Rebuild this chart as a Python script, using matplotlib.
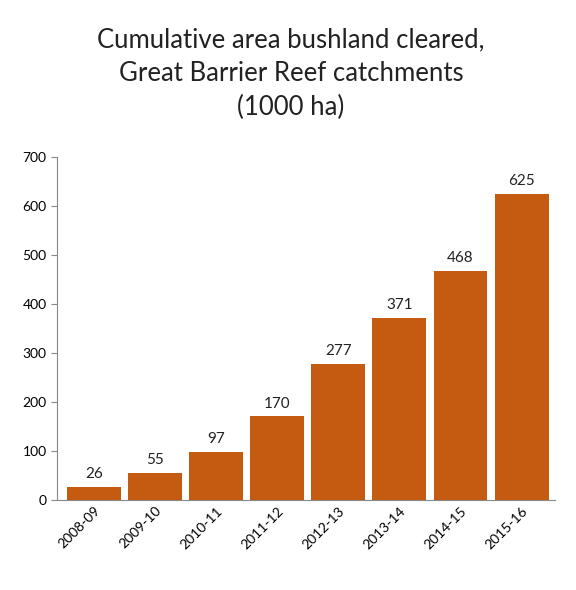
import matplotlib
matplotlib.use("Agg")
import matplotlib.pyplot as plt

categories = ["2008-09","2009-10","2010-11","2011-12","2012-13","2013-14","2014-15","2015-16"]
values = [26, 55, 97, 170, 277, 371, 468, 625]

plt.rcParams['font.family'] = ['Lato', 'DejaVu Sans']
fig = plt.figure(figsize=(5.76, 5.90), dpi=100)
ax = fig.add_axes([0.099, 0.153, 0.865, 0.581])
x = range(len(categories))
ax.bar(x, values, width=0.88, color="#C55A11")
for xi, v in zip(x, values):
    ax.text(xi, v + 12, str(v), ha="center", va="bottom", fontsize=11, color="#222222")
ax.set_ylim(0, 700)
ax.set_xlim(-0.6, 7.55)
ax.set_yticks(range(0, 701, 100))
ax.set_xticks(list(x))
ax.set_xticklabels(categories, rotation=45, ha="right", rotation_mode="anchor", fontsize=10)
ax.tick_params(axis="y", labelsize=10, length=4, color="#888888")
ax.tick_params(axis="x", length=0)
for s in ["top", "right"]:
    ax.spines[s].set_visible(False)
for s in ["left", "bottom"]:
    ax.spines[s].set_color("#888888")
fig.text(0.505, 0.875, "Cumulative area bushland cleared,\nGreat Barrier Reef catchments\n(1000 ha)",
         ha="center", va="center", fontsize=18.5, linespacing=1.45, color="#222222")
fig.savefig("out.png", dpi=100)
